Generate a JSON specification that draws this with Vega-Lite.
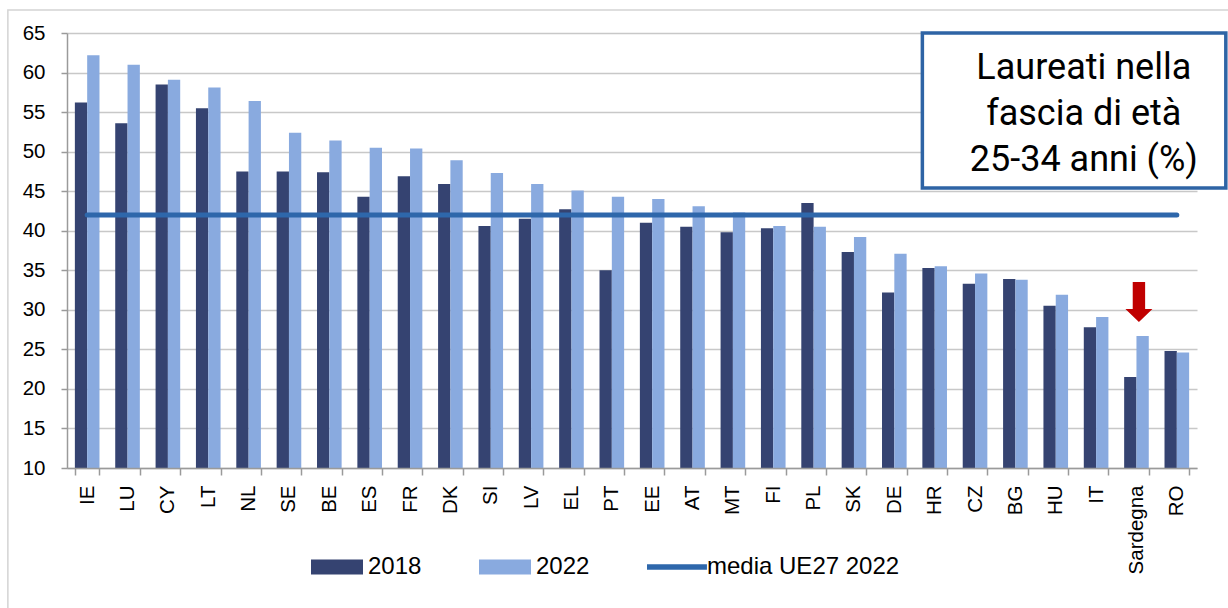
{
  "$schema": "https://vega.github.io/schema/vega-lite/v6.json",
  "autosize": {"type": "none"},
  "padding": {"left": 67, "top": 33, "right": 31, "bottom": 140},
  "width": 1130,
  "height": 435,
  "background": "white",
  "config": {
    "view": {"stroke": null},
    "font": "Liberation Sans",
    "axisY": {
      "title": null, "labelFontSize": 20.5, "labelColor": "#000000", "labelPadding": 16,
      "labelOverlap": false, "ticks": true, "tickSize": 6, "tickColor": "#9A9A9A", "tickWidth": 1.5,
      "domainColor": "#9A9A9A", "domainWidth": 1.5, "grid": true, "gridColor": "#C8C8C8", "gridWidth": 1.5
    },
    "axisX": {
      "title": null, "labelAngle": -90, "labelFontSize": 20.5, "labelColor": "#000000",
      "tickBand": "extent", "ticks": true, "tickSize": 7, "tickColor": "#9A9A9A", "tickWidth": 1.5,
      "domainColor": "#9A9A9A", "domainWidth": 1.5, "labelPadding": 10, "grid": false, "labelOverlap": false
    }
  },
  "datasets": {
    "barre": [
      {"paese": "IE", "anno": "2018", "valore": 56.2}, {"paese": "IE", "anno": "2022", "valore": 62.2},
      {"paese": "LU", "anno": "2018", "valore": 53.6}, {"paese": "LU", "anno": "2022", "valore": 61.0},
      {"paese": "CY", "anno": "2018", "valore": 58.5}, {"paese": "CY", "anno": "2022", "valore": 59.1},
      {"paese": "LT", "anno": "2018", "valore": 55.5}, {"paese": "LT", "anno": "2022", "valore": 58.1},
      {"paese": "NL", "anno": "2018", "valore": 47.5}, {"paese": "NL", "anno": "2022", "valore": 56.4},
      {"paese": "SE", "anno": "2018", "valore": 47.5}, {"paese": "SE", "anno": "2022", "valore": 52.4},
      {"paese": "BE", "anno": "2018", "valore": 47.4}, {"paese": "BE", "anno": "2022", "valore": 51.4},
      {"paese": "ES", "anno": "2018", "valore": 44.3}, {"paese": "ES", "anno": "2022", "valore": 50.5},
      {"paese": "FR", "anno": "2018", "valore": 46.9}, {"paese": "FR", "anno": "2022", "valore": 50.4},
      {"paese": "DK", "anno": "2018", "valore": 45.9}, {"paese": "DK", "anno": "2022", "valore": 48.9},
      {"paese": "SI", "anno": "2018", "valore": 40.6}, {"paese": "SI", "anno": "2022", "valore": 47.3},
      {"paese": "LV", "anno": "2018", "valore": 41.5}, {"paese": "LV", "anno": "2022", "valore": 45.9},
      {"paese": "EL", "anno": "2018", "valore": 42.7}, {"paese": "EL", "anno": "2022", "valore": 45.1},
      {"paese": "PT", "anno": "2018", "valore": 35.0}, {"paese": "PT", "anno": "2022", "valore": 44.3},
      {"paese": "EE", "anno": "2018", "valore": 41.0}, {"paese": "EE", "anno": "2022", "valore": 44.0},
      {"paese": "AT", "anno": "2018", "valore": 40.5}, {"paese": "AT", "anno": "2022", "valore": 43.1},
      {"paese": "MT", "anno": "2018", "valore": 39.8}, {"paese": "MT", "anno": "2022", "valore": 42.3},
      {"paese": "FI", "anno": "2018", "valore": 40.3}, {"paese": "FI", "anno": "2022", "valore": 40.6},
      {"paese": "PL", "anno": "2018", "valore": 43.5}, {"paese": "PL", "anno": "2022", "valore": 40.5},
      {"paese": "SK", "anno": "2018", "valore": 37.3}, {"paese": "SK", "anno": "2022", "valore": 39.2},
      {"paese": "DE", "anno": "2018", "valore": 32.2}, {"paese": "DE", "anno": "2022", "valore": 37.1},
      {"paese": "HR", "anno": "2018", "valore": 35.3}, {"paese": "HR", "anno": "2022", "valore": 35.5},
      {"paese": "CZ", "anno": "2018", "valore": 33.3}, {"paese": "CZ", "anno": "2022", "valore": 34.6},
      {"paese": "BG", "anno": "2018", "valore": 33.9}, {"paese": "BG", "anno": "2022", "valore": 33.8},
      {"paese": "HU", "anno": "2018", "valore": 30.5}, {"paese": "HU", "anno": "2022", "valore": 31.9},
      {"paese": "IT", "anno": "2018", "valore": 27.8}, {"paese": "IT", "anno": "2022", "valore": 29.1},
      {"paese": "Sardegna", "anno": "2018", "valore": 21.5}, {"paese": "Sardegna", "anno": "2022", "valore": 26.7},
      {"paese": "RO", "anno": "2018", "valore": 24.8}, {"paese": "RO", "anno": "2022", "valore": 24.6}
    ],
    "media": [
      {"paese": "IE", "anno": "media UE27 2022", "valore": 42.0},
      {"paese": "RO", "anno": "media UE27 2022", "valore": 42.0}
    ]
  },
  "layer": [
    {
      "data": {"values": [{}]},
      "mark": {"type": "rect", "fill": null, "fillOpacity": 0, "stroke": "#D4D4D4", "strokeWidth": 1.5, "xOffset": -67, "x2Offset": 80, "yOffset": -23, "y2Offset": 160},
      "encoding": {
        "x": {"datum": "IE", "bandPosition": 0},
        "x2": {"datum": "RO"},
        "y": {"datum": 65, "type": "quantitative", "axis": {"values": [10,15,20,25,30,35,40,45,50,55,60,65], "labelFontSize": 20.5, "labelPadding": 16, "labelOverlap": false, "tickSize": 6, "gridColor": "#C8C8C8", "gridWidth": 1.5, "title": null}},
        "y2": {"datum": 10}
      }
    },
    {
      "data": {"name": "barre"},
      "mark": {"type": "bar"},
      "encoding": {
        "x": {
          "field": "paese", "type": "nominal",
          "scale": {
            "domain": ["IE","LU","CY","LT","NL","SE","BE","ES","FR","DK","SI","LV","EL","PT","EE","AT","MT","FI","PL","SK","DE","HR","CZ","BG","HU","IT","Sardegna","RO"],
            "paddingInner": 0.39, "paddingOuter": 0.195
          }
        },
        "xOffset": {"field": "anno", "type": "nominal", "scale": {"paddingInner": 0, "paddingOuter": 0}},
        "y": {
          "field": "valore", "type": "quantitative",
          "scale": {"domain": [10, 65], "nice": false, "zero": false},
          "axis": {"values": [10,15,20,25,30,35,40,45,50,55,60,65], "labelFontSize": 20.5, "labelPadding": 16, "labelOverlap": false, "tickSize": 6, "gridColor": "#C8C8C8", "gridWidth": 1.5, "title": null}
        },
        "y2": {"datum": 10},
        "color": {
          "field": "anno", "type": "nominal",
          "scale": {"domain": ["2018", "2022", "media UE27 2022"], "range": ["#354371", "#89AADF", "#2E67AB"]},
          "legend": {
            "title": null, "orient": "none", "legendX": 244, "legendY": 508,
            "direction": "horizontal", "padding": 0,
            "labelFontSize": 24, "labelColor": "#000000", "labelOffset": 5, "labelLimit": 400,
            "columnPadding": 57, "symbolSize": 2704,
            "symbolType": "M-1,-0.29H1V0.29H-1Z",
            "encode": {
              "symbols": {
                "update": {
                  "shape": {"signal": "datum.value === 'media UE27 2022' ? 'M-1.115,-0.11H1.19V0.11H-1.115Z' : 'M-1,-0.29H1V0.29H-1Z'"},
                  "fill": {"scale": "color", "field": "value"},
                  "stroke": {"value": "transparent"},
                  "strokeWidth": {"value": 0},
                  "opacity": {"value": 1}
                }
              }
            }
          }
        }
      }
    },
    {
      "data": {"name": "media"},
      "mark": {"type": "line", "strokeWidth": 5, "strokeCap": "round"},
      "encoding": {
        "x": {"field": "paese", "type": "nominal"},
        "y": {"field": "valore", "type": "quantitative", "axis": {"values": [10,15,20,25,30,35,40,45,50,55,60,65], "labelFontSize": 20.5, "labelPadding": 16, "labelOverlap": false, "tickSize": 6, "gridColor": "#C8C8C8", "gridWidth": 1.5, "title": null}},
        "color": {"field": "anno", "type": "nominal"}
      }
    },
    {
      "data": {"values": [{}]},
      "mark": {"type": "rect", "fill": "white", "stroke": "#2E64A5", "strokeWidth": 3.5, "x2Offset": 49},
      "encoding": {
        "x": {"datum": "HR", "bandPosition": 0},
        "x2": {"datum": "RO"},
        "y": {"datum": 65, "type": "quantitative", "axis": {"values": [10,15,20,25,30,35,40,45,50,55,60,65], "labelFontSize": 20.5, "labelPadding": 16, "labelOverlap": false, "tickSize": 6, "gridColor": "#C8C8C8", "gridWidth": 1.5, "title": null}},
        "y2": {"datum": 45.4}
      }
    },
    {
      "data": {"values": [{}]},
      "mark": {"type": "text", "font": "Roboto", "fontSize": 36, "align": "center", "baseline": "alphabetic", "lineHeight": 46, "color": "#000000"},
      "encoding": {
        "x": {"datum": "IT", "bandPosition": 0},
        "y": {"datum": 59.2, "type": "quantitative", "axis": {"values": [10,15,20,25,30,35,40,45,50,55,60,65], "labelFontSize": 20.5, "labelPadding": 16, "labelOverlap": false, "tickSize": 6, "gridColor": "#C8C8C8", "gridWidth": 1.5, "title": null}},
        "text": {"value": ["Laureati nella", "fascia di età", "25-34 anni (%)"]}
      }
    },
    {
      "data": {"values": [{}]},
      "mark": {"type": "point", "shape": "M-0.31,-1H0.31V0.35H0.675L0,1L-0.675,0.35H-0.31Z", "size": 1600, "filled": true, "fill": "#C00000", "opacity": 1, "strokeWidth": 0},
      "encoding": {
        "x": {"datum": "Sardegna", "bandPosition": 0.6},
        "y": {"datum": 31.0, "type": "quantitative", "axis": {"values": [10,15,20,25,30,35,40,45,50,55,60,65], "labelFontSize": 20.5, "labelPadding": 16, "labelOverlap": false, "tickSize": 6, "gridColor": "#C8C8C8", "gridWidth": 1.5, "title": null}}
      }
    }
  ]
}
